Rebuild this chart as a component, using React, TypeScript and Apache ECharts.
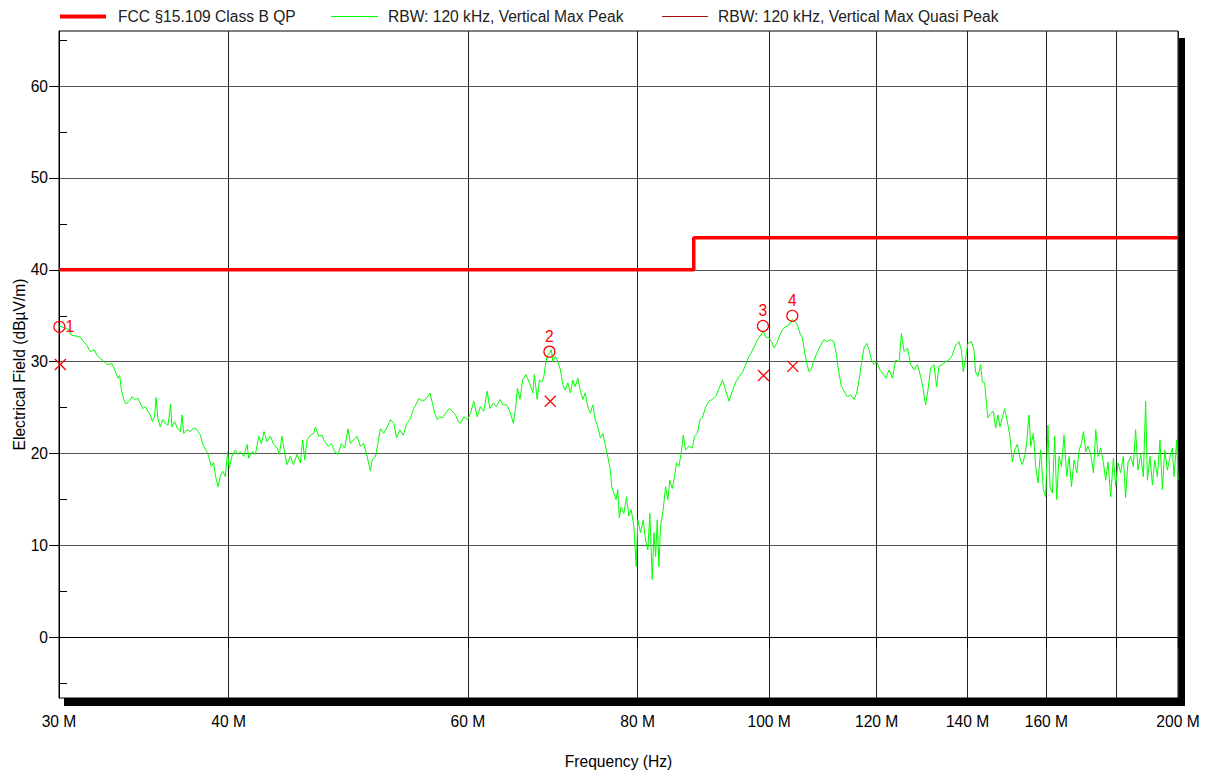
import React, { useEffect, useRef } from "react";
import * as echarts from "echarts";

const FONT = "'Liberation Sans', Arial, Helvetica, sans-serif";
const FS = 15.6;

// Axis ticks (MHz / dBµV/m)
const xTickValues = [30, 40, 60, 80, 100, 120, 140, 160, 180, 200];
const xLabelValues = [30, 40, 60, 80, 100, 120, 140, 160, 200];
const yTickValues = [0, 10, 20, 30, 40, 50, 60];
const yMinorTickValues = [-5, 5, 15, 25, 35, 45, 55, 65];

// Legend / series names
const LIMIT_NAME = "FCC §15.109 Class B QP";
const PEAK_NAME = "RBW: 120 kHz, Vertical Max Peak";
const QP_NAME = "RBW: 120 kHz, Vertical Max Quasi Peak";

// Limit line (MHz, dBµV/m)
const limitLine: [number, number][] = [
  [30, 40], [88, 40], [88, 43.5], [200, 43.5],
];

const trace30to60: [number, number][] = [
  [30.0, 33.9], [30.5, 33.5], [30.63, 32.9], [30.85, 32.8], [31.1, 32.7], [31.27, 32.2], [31.45, 31.8], [31.63, 31.1],
  [31.86, 31.3], [31.99, 30.7], [32.27, 30.2], [32.55, 29.7], [32.82, 29.8], [33.01, 28.9], [33.16, 28.2], [33.25, 28.5],
  [33.35, 26.9], [33.48, 25.9], [33.61, 25.4], [33.8, 25.7], [33.96, 26.2], [34.1, 25.9], [34.3, 26.0], [34.43, 25.5],
  [34.57, 24.9], [34.73, 25.1], [34.88, 24.6], [35.02, 24.2], [35.15, 23.5], [35.27, 24.0], [35.37, 26.1], [35.47, 23.9],
  [35.62, 22.9], [35.76, 23.7], [35.92, 23.3], [36.09, 23.1], [36.25, 25.4], [36.33, 22.9], [36.49, 23.5], [36.66, 22.8],
  [36.85, 22.4], [36.96, 24.2], [37.06, 22.2], [37.27, 22.6], [37.48, 22.4], [37.69, 22.8], [37.91, 22.6], [38.12, 22.0],
  [38.33, 20.8], [38.56, 20.2], [38.66, 19.7], [38.84, 18.6], [38.99, 19.0], [39.1, 17.7], [39.28, 16.4], [39.44, 17.5],
  [39.59, 18.1], [39.77, 17.5], [39.93, 20.2], [40.04, 18.4], [40.22, 19.7], [40.45, 20.4], [40.64, 19.9], [40.8, 20.2],
  [41.03, 19.7], [41.27, 21.0], [41.38, 19.5], [41.62, 20.2], [41.85, 19.9], [42.09, 21.9], [42.28, 21.1], [42.47, 22.4],
  [42.69, 21.3], [42.93, 21.9], [43.17, 21.0], [43.42, 20.6], [43.59, 19.9], [43.78, 21.9], [43.98, 20.1], [44.16, 18.8],
  [44.4, 19.7], [44.65, 18.8], [44.91, 19.9], [45.17, 19.0], [45.35, 21.5], [45.5, 19.3], [45.69, 21.5], [45.95, 22.0],
  [46.21, 22.2], [46.34, 22.9], [46.6, 21.9], [46.86, 22.0], [47.07, 21.3], [47.34, 20.8], [47.61, 21.1], [47.88, 20.2],
  [48.15, 19.9], [48.42, 21.1], [48.69, 20.6], [48.97, 22.7], [49.16, 21.1], [49.44, 21.5], [49.72, 21.9], [50.01, 20.8],
  [50.29, 21.1], [50.58, 19.7], [50.87, 18.1], [51.01, 19.3], [51.3, 19.7], [51.5, 21.0], [51.73, 22.7], [52.03, 22.2],
  [52.33, 22.9], [52.63, 23.7], [52.92, 23.3], [53.17, 21.7], [53.46, 22.6], [53.78, 22.0], [54.08, 23.3], [54.39, 23.7],
  [54.7, 24.8], [55.01, 25.5], [55.22, 26.0], [55.55, 25.7], [55.86, 25.9], [56.27, 26.6], [56.5, 25.5], [56.72, 24.4],
  [56.98, 23.7], [57.23, 24.0], [57.47, 23.9], [57.79, 24.4], [58.12, 24.9], [58.46, 24.6], [58.78, 24.2], [59.01, 23.5],
  [59.25, 23.3], [59.59, 24.0], [59.99, 23.7],
];

const trace60to100: [number, number][] = [
  [60.27, 24.4], [60.61, 25.7], [60.96, 24.0], [61.29, 25.1], [61.64, 24.6], [62.0, 26.8], [62.27, 24.9], [62.63, 25.5],
  [62.99, 25.1], [63.34, 25.9], [63.7, 25.3], [64.07, 25.3], [64.43, 24.6], [64.81, 23.3], [65.06, 24.9], [65.26, 27.1],
  [65.55, 25.9], [65.84, 28.0], [66.22, 28.6], [66.6, 27.7], [66.99, 26.6], [67.17, 28.6], [67.48, 25.9], [67.75, 28.0],
  [68.03, 27.8], [68.26, 28.4], [68.41, 29.5], [68.64, 30.7], [68.91, 30.9], [69.11, 31.3], [69.31, 30.0], [69.58, 30.6],
  [69.9, 30.0], [70.2, 29.1], [70.49, 27.5], [70.77, 26.9], [71.09, 27.7], [71.4, 26.6], [71.69, 28.0], [71.97, 27.3],
  [72.3, 28.2], [72.62, 26.8], [72.92, 25.9], [73.2, 26.6], [73.54, 25.1], [73.86, 24.4], [74.16, 25.3], [74.45, 23.7],
  [74.79, 22.9], [75.12, 21.7], [75.43, 22.2], [75.72, 21.0], [76.06, 19.7], [76.4, 18.2], [76.58, 16.4], [76.84, 15.7],
  [77.14, 15.0], [77.36, 16.1], [77.57, 13.0], [77.81, 14.2], [78.17, 13.5], [78.52, 15.3], [78.83, 13.2], [79.15, 13.9],
  [79.5, 12.1], [79.82, 7.7], [80.04, 12.8], [80.41, 11.4], [80.78, 12.8], [81.09, 10.6], [81.41, 9.5], [81.69, 13.5],
  [82.02, 6.3], [82.25, 11.4], [82.49, 8.8], [82.72, 12.8], [82.95, 7.7], [83.18, 12.1], [83.56, 13.9], [83.89, 16.4],
  [84.22, 15.0], [84.51, 17.1], [84.85, 16.2], [85.18, 17.5], [85.47, 19.0], [85.81, 18.6], [86.15, 20.1], [86.45, 22.0],
  [86.79, 20.4], [87.28, 20.8], [87.78, 20.6], [88.13, 21.9], [88.53, 22.2], [88.92, 23.7], [89.29, 23.9], [89.8, 25.1],
  [90.3, 25.7], [90.82, 25.9], [91.34, 26.2], [91.85, 27.1], [92.4, 28.0], [92.92, 26.8], [93.44, 25.7], [93.98, 26.9],
  [94.51, 27.8], [95.04, 28.4], [95.59, 28.9], [96.13, 29.7], [96.5, 30.4], [96.94, 30.9], [97.49, 31.6], [98.05, 32.4],
  [98.56, 32.9], [99.02, 33.3], [99.41, 32.7], [99.97, 32.6],
];

const trace100to150: [number, number][] = [
  [100.38, 32.2], [100.83, 31.5], [101.29, 32.0], [101.7, 32.7], [102.26, 33.5], [102.84, 33.8], [103.42, 34.0], [104.02, 34.6],
  [104.43, 34.4], [104.91, 34.0], [105.38, 33.1], [105.81, 32.6], [106.23, 30.9], [106.59, 29.8], [107.01, 28.9], [107.45, 29.3],
  [107.92, 30.2], [108.55, 31.1], [109.11, 31.8], [109.73, 32.4], [110.36, 32.2], [110.98, 32.4], [111.61, 32.2], [112.12, 30.6],
  [112.56, 28.8], [113.03, 27.3], [113.53, 26.8], [114.18, 26.2], [114.83, 26.4], [115.47, 25.9], [116.0, 26.6], [116.46, 28.0],
  [116.93, 29.8], [117.45, 31.5], [117.99, 32.0], [118.45, 31.3], [118.93, 30.2], [119.46, 29.7], [120.0, 30.0], [120.68, 29.1],
  [121.38, 28.6], [121.85, 28.2], [122.54, 29.1], [123.25, 28.2], [123.94, 30.2], [124.64, 30.0], [125.15, 33.1], [125.7, 31.1],
  [126.43, 31.5], [127.14, 29.7], [127.86, 29.1], [128.59, 29.7], [129.28, 28.4], [129.87, 26.9], [130.38, 25.3], [130.89, 26.9],
  [131.48, 29.3], [132.22, 29.7], [132.83, 27.3], [133.35, 29.5], [134.12, 29.7], [134.87, 30.0], [135.63, 30.2], [136.41, 30.7],
  [137.18, 31.8], [137.95, 32.2], [138.51, 31.3], [138.98, 28.9], [139.53, 30.4], [140.07, 32.0], [140.87, 32.2], [141.49, 31.3],
  [141.9, 28.9], [142.46, 28.4], [143.12, 29.7], [143.53, 27.8], [144.1, 27.7], [144.59, 25.1], [144.91, 23.9], [145.57, 24.4],
  [146.24, 24.6], [146.81, 22.8], [147.39, 24.2], [147.89, 22.9], [148.49, 23.9], [149.07, 24.9], [149.75, 23.5],
];

const trace150to200: [number, number][] = [
  [150.41, 21.9], [151.03, 19.1], [151.62, 20.4], [152.31, 21.0], [152.99, 19.5], [153.61, 18.8], [154.22, 19.7], [154.74, 21.1],
  [155.35, 24.2], [155.8, 20.8], [156.52, 22.2], [157.13, 18.6], [157.75, 16.8], [158.45, 20.4], [159.18, 16.1], [159.81, 15.3],
  [160.43, 23.1], [160.98, 16.4], [161.64, 15.7], [162.27, 21.9], [162.83, 15.0], [163.47, 19.7], [164.14, 18.6], [164.86, 22.0],
  [165.62, 17.5], [166.27, 19.7], [166.95, 16.4], [167.69, 19.3], [168.46, 17.9], [169.12, 20.4], [169.8, 21.1], [170.38, 22.4],
  [171.04, 20.2], [171.71, 20.8], [172.5, 19.9], [173.29, 17.9], [173.97, 22.6], [174.65, 19.7], [175.42, 20.6], [176.23, 19.0],
  [176.93, 17.1], [177.62, 19.1], [178.43, 15.3], [179.25, 19.5], [179.95, 16.4], [180.66, 19.0], [181.47, 17.9], [182.3, 19.7],
  [183.0, 15.2], [183.72, 19.0], [184.56, 19.7], [185.41, 18.6], [186.14, 22.6], [186.87, 18.2], [187.73, 19.9], [188.59, 17.5],
  [189.33, 25.7], [189.88, 17.1], [190.72, 19.7], [191.5, 16.6], [192.25, 19.3], [193.13, 17.5], [193.98, 21.5], [194.77, 16.1],
  [195.54, 20.4], [196.44, 18.2], [197.31, 19.7], [198.11, 20.6], [198.65, 17.5], [199.56, 21.5], [200.0, 17.1],
];

// Final measurement markers
const markerNumbers = ["1", "2", "3", "4"];
const peakMarkerFreq = [30.02, 68.9, 98.95, 104.0];
const peakMarkerLevel = [33.8, 31.1, 33.9, 35.0];
const qpMarkerFreq = [30.07, 69.0, 99.05, 104.1];
const qpMarkerLevel = [29.7, 25.7, 28.5, 29.5];

const Y_MIN = -6.6;
const Y_MAX = 66;

export default function App() {
  const ref = useRef<HTMLDivElement>(null);

  useEffect(() => {
    if (!ref.current) return;
    const chart = echarts.init(ref.current, null, { renderer: "svg" });

    const trace = [...trace30to60, ...trace60to100, ...trace100to150, ...trace150to200];
    const peakData = peakMarkerFreq.map((f, i) => ({
      value: [f, peakMarkerLevel[i]],
      label: i === 0 ? { position: "right", distance: 0 } : { position: "top", distance: 1 },
    }));
    const qpData = qpMarkerFreq.map((f, i) => [f, qpMarkerLevel[i]]);

    const legendText = { fontFamily: FONT, fontSize: FS, color: "#222", lineHeight: 17 };

    chart.setOption({
      animation: false,
      backgroundColor: "#ffffff",
      textStyle: { fontFamily: FONT },
      grid: {
        left: 59,
        top: 31,
        right: 30,
        bottom: 78,
        containLabel: false,
        outerBoundsMode: "none",
        show: true,
        borderColor: "#000",
        borderWidth: 1,
        backgroundColor: "transparent",
      },
      legend: [
        {
          data: [{ name: LIMIT_NAME, icon: "rect", itemStyle: { color: "#ff0000", opacity: 1 } }],
          left: 60, top: 8, padding: 0, itemWidth: 46, itemHeight: 4,
          selectedMode: false,
          textStyle: { ...legendText, padding: [0, 0, 0, 7] },
        },
        {
          data: [{ name: PEAK_NAME, icon: "rect", itemStyle: { color: "#00ff00", opacity: 1 } }],
          left: 331, top: 8, padding: 0, itemWidth: 47, itemHeight: 1,
          selectedMode: false,
          textStyle: { ...legendText, padding: [0, 0, 0, 5] },
        },
        {
          data: [{
            name: QP_NAME,
            icon: "rect",
            itemStyle: { color: "#a81010", borderColor: "#a81010", borderWidth: 0, opacity: 1 },
          }],
          left: 662, top: 8, padding: 0, itemWidth: 46, itemHeight: 1,
          selectedMode: false,
          textStyle: { ...legendText, padding: [0, 0, 0, 5] },
        },
      ],
      graphic: [
        { type: "rect", shape: { x: 1178, y: 38, width: 7, height: 668 }, style: { fill: "#000" }, z: 0 },
        { type: "rect", shape: { x: 64, y: 698, width: 1121, height: 8 }, style: { fill: "#000" }, z: 0 },
      ],
      xAxis: {
        type: "log",
        logBase: 10,
        min: 30,
        max: 200,
        name: "Frequency (Hz)",
        nameLocation: "middle",
        nameGap: 55,
        nameTextStyle: { fontFamily: FONT, fontSize: FS, color: "#000" },
        axisLine: { show: true, lineStyle: { color: "#000", width: 1 } },
        axisTick: { show: true, length: 10, customValues: xTickValues, lineStyle: { color: "#000" } },
        axisLabel: {
          show: true,
          customValues: xLabelValues,
          margin: 15,
          fontFamily: FONT,
          fontSize: FS,
          color: "#000",
          formatter: (v: number) => `${Math.round(v)} M`,
        },
        splitLine: { show: true, lineStyle: { color: "#222", width: 1 } },
        minorTick: { show: false },
        minorSplitLine: { show: false },
      },
      yAxis: [
        {
          type: "value",
          min: Y_MIN,
          max: Y_MAX,
          position: "left",
          name: "Electrical Field (dBµV/m)",
          nameLocation: "middle",
          nameGap: 32,
          nameMoveOverlap: false,
          nameRotate: 90,
          nameTextStyle: { fontFamily: FONT, fontSize: FS, color: "#000" },
          axisLine: { show: true, lineStyle: { color: "#000", width: 1 } },
          axisTick: { show: true, length: 10, customValues: yTickValues, lineStyle: { color: "#000" } },
          axisLabel: {
            show: true,
            customValues: yTickValues,
            margin: 11,
            fontFamily: FONT,
            fontSize: FS,
            color: "#000",
          },
          splitLine: { show: true, lineStyle: { color: "#555", width: 1 } },
        },
        {
          type: "value",
          min: Y_MIN,
          max: Y_MAX,
          position: "left",
          axisLine: { show: false },
          axisLabel: { show: false },
          splitLine: { show: false },
          axisTick: {
            show: true,
            inside: true,
            length: 8,
            customValues: yMinorTickValues,
            lineStyle: { color: "#000" },
          },
        },
      ],
      series: [
        {
          name: PEAK_NAME,
          type: "line",
          data: trace,
          symbol: "none",
          showSymbol: false,
          lineStyle: { color: "#00ff00", width: 1 },
          itemStyle: { color: "#00ff00" },
          z: 2,
        },
        {
          name: LIMIT_NAME,
          type: "line",
          data: limitLine,
          symbol: "none",
          showSymbol: false,
          lineStyle: { color: "#ff0000", width: 3.5 },
          itemStyle: { color: "#ff0000" },
          z: 3,
        },
        {
          name: QP_NAME,
          type: "scatter",
          data: qpData,
          symbol: "path://M0,0L10,10M10,0L0,10",
          symbolSize: 11,
          itemStyle: { color: "transparent", borderColor: "#ff0000", borderWidth: 1.3, opacity: 1 },
          z: 4,
        },
        {
          name: "Peak markers",
          type: "scatter",
          data: peakData,
          symbol: "circle",
          symbolSize: 11,
          itemStyle: { color: "transparent", borderColor: "#ff0000", borderWidth: 1.2, opacity: 1 },
          label: {
            show: true,
            formatter: (p: any) => markerNumbers[p.dataIndex],
            color: "#ff0000",
            fontFamily: FONT,
            fontSize: FS,
          },
          z: 5,
        },
      ],
    });

    return () => {
      chart.dispose();
    };
  }, []);

  return (
    <div
      ref={ref}
      style={{ position: "absolute", left: 0, top: 0, width: 1208, height: 776, background: "#fff" }}
    />
  );
}
